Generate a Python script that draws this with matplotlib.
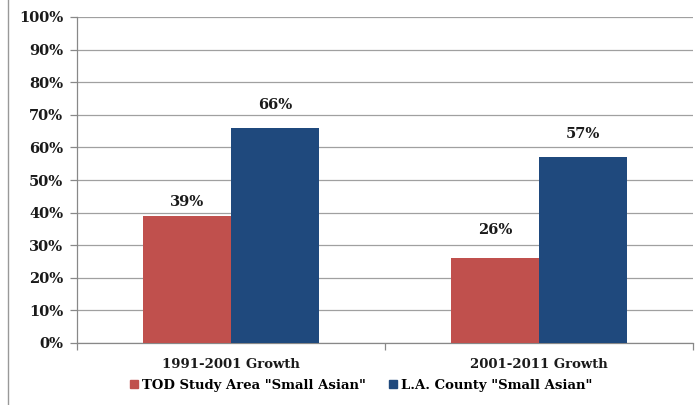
import matplotlib
matplotlib.use("Agg")
import matplotlib.pyplot as plt
from matplotlib.lines import Line2D

categories = ["1991-2001 Growth", "2001-2011 Growth"]
series_names = ['TOD Study Area "Small Asian"', 'L.A. County "Small Asian"']
tod_values = [39, 26]
la_values = [66, 57]
label_offsets_tod = [14, 28]
label_offsets_la = [23, 23]
yticks = list(range(0, 101, 10))

plt.rcParams['font.family'] = ['DejaVu Serif']
plt.rcParams['font.weight'] = 'bold'

W, H = 699, 405
fig = plt.figure(figsize=(W / 100, H / 100), dpi=100)
ax = fig.add_axes([77 / W, 1 - 343 / H, (693 - 77) / W, (343 - 17) / H])

red = "#C0504D"
blue = "#1F497D"
txt = "#1a1a1a"
bw = 0.286
x = list(range(len(categories)))
b1 = ax.bar([i - bw / 2 for i in x], tod_values, width=bw, color=red, zorder=3)
b2 = ax.bar([i + bw / 2 for i in x], la_values, width=bw, color=blue, zorder=3)

px = 72 / 100
for bars, vals, offs in ((b1, tod_values, label_offsets_tod), (b2, la_values, label_offsets_la)):
    for r, v, o in zip(bars, vals, offs):
        ax.annotate(f"{v}%", (r.get_x() + r.get_width() / 2, v), xytext=(0, o * px),
                    textcoords="offset points", ha="center", va="center",
                    fontsize=10.5, fontweight="bold", color=txt)

ax.set_xlim(-0.5, 1.5)
ax.set_ylim(0, 100)
ax.set_yticks(yticks)
ax.set_yticklabels([f"{t}%" for t in yticks], fontsize=10.5, fontweight="bold", color=txt)
ax.yaxis.grid(True, color="#a0a0a0", linewidth=0.9, zorder=0)
ax.set_axisbelow(True)
ax.tick_params(axis="y", length=5, color="#888888", width=0.9, pad=5)

ax.set_xticks([-0.5, 0.5, 1.5])
ax.set_xticklabels([])
ax.tick_params(axis="x", length=5, color="#888888", width=0.9)
for i, c in enumerate(categories):
    ax.text(i, -6.7, c, ha="center", va="center", fontsize=9.5, fontweight="bold",
            color=txt, transform=ax.transData, clip_on=False)

for s in ["top", "right"]:
    ax.spines[s].set_visible(False)
for s in ["left", "bottom"]:
    ax.spines[s].set_color("#888888")
    ax.spines[s].set_linewidth(0.9)

handles = [plt.Rectangle((0, 0), 1, 1, color=red), plt.Rectangle((0, 0), 1, 1, color=blue)]
fig.legend(handles, series_names, loc="center", bbox_to_anchor=(361 / W, 1 - 385 / H),
           ncol=2, frameon=False, handlelength=0.6, handleheight=0.6,
           handletextpad=0.3, columnspacing=1.8, prop={"weight": "bold", "size": 9.5})

fig.add_artist(Line2D([8 / W, 8 / W], [0, 1], color="#999999", linewidth=1.0))

fig.savefig("out.png", dpi=100)
